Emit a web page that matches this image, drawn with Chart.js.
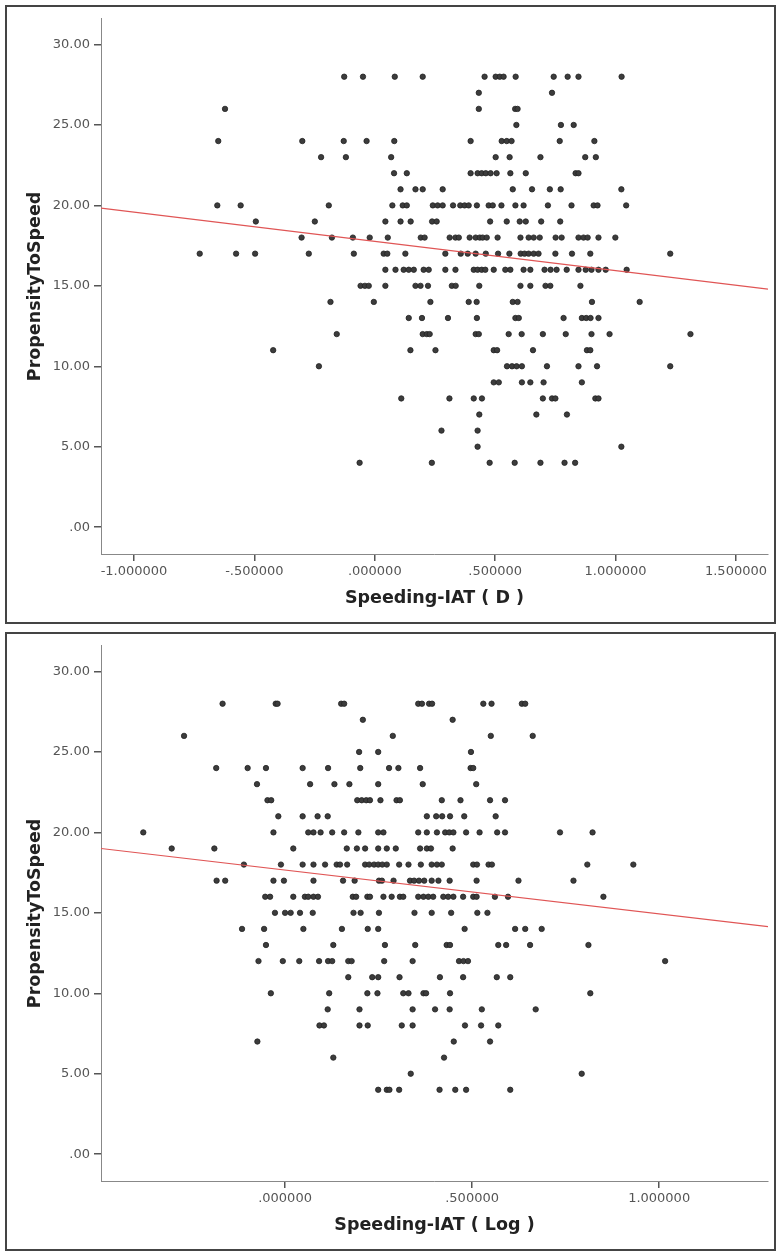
<!DOCTYPE html>
<html>
<head>
<meta charset="utf-8">
<script src="https://cdn.jsdelivr.net/npm/chart.js@4.4.1/dist/chart.umd.min.js"></script>
<style>
body{margin:0;background:#fff;width:778px;height:1253px;overflow:hidden;}
.panel{position:absolute;left:5px;width:767px;height:615px;border:2px solid #444;background:#fff;}
.panel canvas{position:absolute;left:0;top:0;}
</style>
</head>
<body>
<div class="panel" style="top:5px"><canvas id="chartD" width="767" height="615"></canvas></div>
<div class="panel" style="top:632px"><canvas id="chartLog" width="767" height="615"></canvas></div>
<script>
// PropensityToSpeed levels, one row of x values per level
const yLevels=[28,27,26,25,24,23,22,21,20,19,18,17,16,15,14,13,12,11,10,9,8,7,6,5,4];

// Speeding-IAT (D)
const iatD=[
[-0.127,-0.049,0.083,0.199,0.456,0.502,0.519,0.535,0.585,0.743,0.801,0.846,1.025],
[0.432,0.736],
[-0.622,0.432,0.583,0.593],
[0.588,0.773,0.826],
[-0.650,-0.301,-0.129,-0.034,0.081,0.398,0.527,0.548,0.568,0.768,0.912],
[-0.223,-0.120,0.068,0.502,0.560,0.688,0.874,0.918],
[0.080,0.133,0.398,0.427,0.444,0.461,0.481,0.506,0.563,0.627,0.834,0.846],
[0.107,0.169,0.199,0.282,0.573,0.653,0.727,0.772,1.024],
[-0.654,-0.557,-0.191,0.073,0.116,0.133,0.241,0.261,0.282,0.325,0.355,0.373,0.390,0.424,0.473,0.490,0.526,0.584,0.618,0.719,0.817,0.909,0.925,1.044],
[-0.494,-0.249,0.044,0.107,0.149,0.238,0.257,0.479,0.548,0.602,0.627,0.691,0.770],
[-0.304,-0.178,-0.091,-0.021,0.054,0.191,0.207,0.311,0.335,0.349,0.394,0.419,0.436,0.448,0.465,0.510,0.605,0.639,0.660,0.685,0.751,0.776,0.846,0.867,0.884,0.929,0.999],
[-0.727,-0.576,-0.497,-0.274,-0.087,0.037,0.052,0.127,0.293,0.357,0.386,0.419,0.461,0.512,0.559,0.606,0.622,0.639,0.660,0.680,0.750,0.819,0.895,1.227],
[0.044,0.086,0.120,0.141,0.162,0.203,0.224,0.293,0.335,0.411,0.427,0.444,0.459,0.494,0.542,0.563,0.618,0.646,0.705,0.730,0.755,0.797,0.846,0.876,0.900,0.929,0.959,1.046],
[-0.059,-0.041,-0.025,0.044,0.169,0.190,0.221,0.320,0.336,0.434,0.605,0.646,0.709,0.729,0.854],
[-0.184,-0.004,0.231,0.390,0.423,0.573,0.593,0.902,1.100],
[0.141,0.196,0.304,0.424,0.584,0.598,0.784,0.860,0.878,0.896,0.929],
[-0.158,0.199,0.216,0.228,0.419,0.432,0.556,0.610,0.698,0.793,0.900,0.975,1.311],
[-0.422,0.148,0.252,0.494,0.508,0.657,0.881,0.895],
[-0.232,0.549,0.570,0.589,0.611,0.715,0.846,0.923,1.227],
[0.494,0.515,0.611,0.646,0.701,0.860],
[0.110,0.310,0.411,0.445,0.698,0.736,0.750,0.916,0.929],
[0.434,0.671,0.798],
[0.277,0.427],
[0.427,1.024],
[-0.063,0.237,0.477,0.581,0.688,0.788,0.832]
];

// Speeding-IAT (Log)
const iatLog=[
[-0.167,-0.025,-0.020,0.150,0.158,0.356,0.366,0.385,0.393,0.530,0.552,0.633,0.642],
[0.208,0.448],
[-0.270,0.288,0.550,0.662],
[0.198,0.249,0.497],
[-0.184,-0.100,-0.051,0.047,0.115,0.201,0.278,0.303,0.361,0.496,0.503],
[-0.075,0.067,0.132,0.172,0.249,0.368,0.511],
[-0.047,-0.037,0.193,0.205,0.217,0.227,0.255,0.298,0.307,0.419,0.469,0.548,0.588],
[-0.018,0.047,0.087,0.114,0.379,0.404,0.420,0.441,0.479,0.563],
[-0.379,-0.031,0.062,0.076,0.095,0.126,0.158,0.196,0.249,0.263,0.356,0.379,0.406,0.428,0.439,0.450,0.484,0.520,0.567,0.588,0.735,0.822],
[-0.303,-0.189,0.022,0.165,0.192,0.214,0.249,0.272,0.296,0.361,0.379,0.390,0.448],
[-0.110,-0.011,0.047,0.076,0.107,0.138,0.147,0.166,0.214,0.225,0.238,0.249,0.260,0.272,0.305,0.330,0.363,0.392,0.406,0.419,0.503,0.513,0.544,0.553,0.808,0.931],
[-0.183,-0.160,-0.031,-0.003,0.076,0.155,0.186,0.251,0.259,0.290,0.334,0.345,0.358,0.372,0.392,0.410,0.440,0.512,0.624,0.771],
[-0.053,-0.040,0.022,0.053,0.062,0.076,0.088,0.181,0.190,0.220,0.227,0.263,0.285,0.307,0.316,0.356,0.370,0.383,0.396,0.423,0.436,0.450,0.476,0.503,0.512,0.561,0.596,0.851],
[-0.027,0.000,0.015,0.040,0.074,0.183,0.202,0.251,0.346,0.392,0.444,0.514,0.541],
[-0.115,-0.056,0.049,0.152,0.221,0.249,0.480,0.615,0.642,0.686],
[-0.051,0.129,0.267,0.348,0.432,0.441,0.570,0.591,0.655,0.811],
[-0.071,-0.006,0.038,0.091,0.115,0.126,0.169,0.178,0.265,0.341,0.465,0.477,0.489,1.016],
[0.169,0.233,0.249,0.306,0.414,0.476,0.566,0.602],
[-0.038,0.118,0.220,0.247,0.316,0.330,0.370,0.377,0.441,0.816],
[0.114,0.199,0.341,0.401,0.440,0.526,0.670],
[0.092,0.104,0.199,0.221,0.312,0.341,0.481,0.524,0.570],
[-0.074,0.451,0.548],
[0.129,0.425],
[0.336,0.793],
[0.249,0.272,0.279,0.305,0.413,0.455,0.484,0.602]
];

// fit lines, read at the two ends of the x range
const fitXD=[-1.137,1.633];
const fitYD=[19.83,14.80];
const fitXLog=[-0.492,1.291];
const fitYLog=[19.00,14.14];

const yTicks=[0,5,10,15,20,25,30];
const xTicksD=[-1,-0.5,0,0.5,1,1.5];
const xTicksLog=[0,0.5,1];
const rangeY=[-1.67,31.6];
const rangeXD=[-1.137,1.633];
const rangeXLog=[-0.492,1.291];

function toPoints(rows){
const out=[];
rows.forEach((r,i)=>r.forEach(x=>out.push({x:x,y:yLevels[i]})));
return out;
}

function fmtX(v){
return v.toFixed(6).replace(/^(-?)0\./,"$1.");
}
function fmtY(v){
return v.toFixed(2).replace(/^0\./,".");
}

const tickFont={family:"DejaVu Sans",size:13};
const titleFont={family:"DejaVu Sans",size:17.5,weight:"bold"};

function draw(id,rows,fitX,fitY,rangeX,xTicks,xTitle){
new Chart(document.getElementById(id),{
type:"scatter",
data:{datasets:[
{type:"line",data:fitX.map((x,i)=>({x:x,y:fitY[i]})),borderColor:"#e05555",borderWidth:1.2,pointRadius:0,fill:false,order:0},
{data:toPoints(rows),pointRadius:2.7,pointBackgroundColor:"#3c3c3c",pointBorderColor:"#222",pointBorderWidth:0.8,order:1}
]},
options:{
responsive:false,animation:false,devicePixelRatio:1,
layout:{padding:{top:8,right:6,left:0,bottom:0}},
plugins:{legend:{display:false},tooltip:{enabled:false}},
scales:{
x:{type:"linear",min:rangeX[0],max:rangeX[1],
afterBuildTicks:s=>{s.ticks=xTicks.map(v=>({value:v}));},
afterFit:s=>{s.height=68;},
border:{color:"#888",width:1},
grid:{drawOnChartArea:false,drawTicks:true,tickLength:7,color:"#555",lineWidth:1.5},
ticks:{callback:fmtX,font:tickFont,color:"#555",padding:3,autoSkip:false,maxRotation:0},
title:{display:true,text:xTitle,font:titleFont,color:"#222",padding:{top:0,bottom:13.5}}
},
y:{type:"linear",min:rangeY[0],max:rangeY[1],
afterBuildTicks:s=>{s.ticks=yTicks.map(v=>({value:v}));},
afterFit:s=>{s.width=94;},
border:{color:"#888",width:1},
grid:{drawOnChartArea:false,drawTicks:true,tickLength:7,color:"#555",lineWidth:1.5},
ticks:{callback:fmtY,font:tickFont,color:"#555",padding:4},
title:{display:true,text:"PropensityToSpeed",font:titleFont,color:"#222",padding:{top:17.5,bottom:0}}
}
}
}
});
}

draw("chartD",iatD,fitXD,fitYD,rangeXD,xTicksD,"Speeding-IAT ( D )");
draw("chartLog",iatLog,fitXLog,fitYLog,rangeXLog,xTicksLog,"Speeding-IAT ( Log )");
</script>
</body>
</html>
